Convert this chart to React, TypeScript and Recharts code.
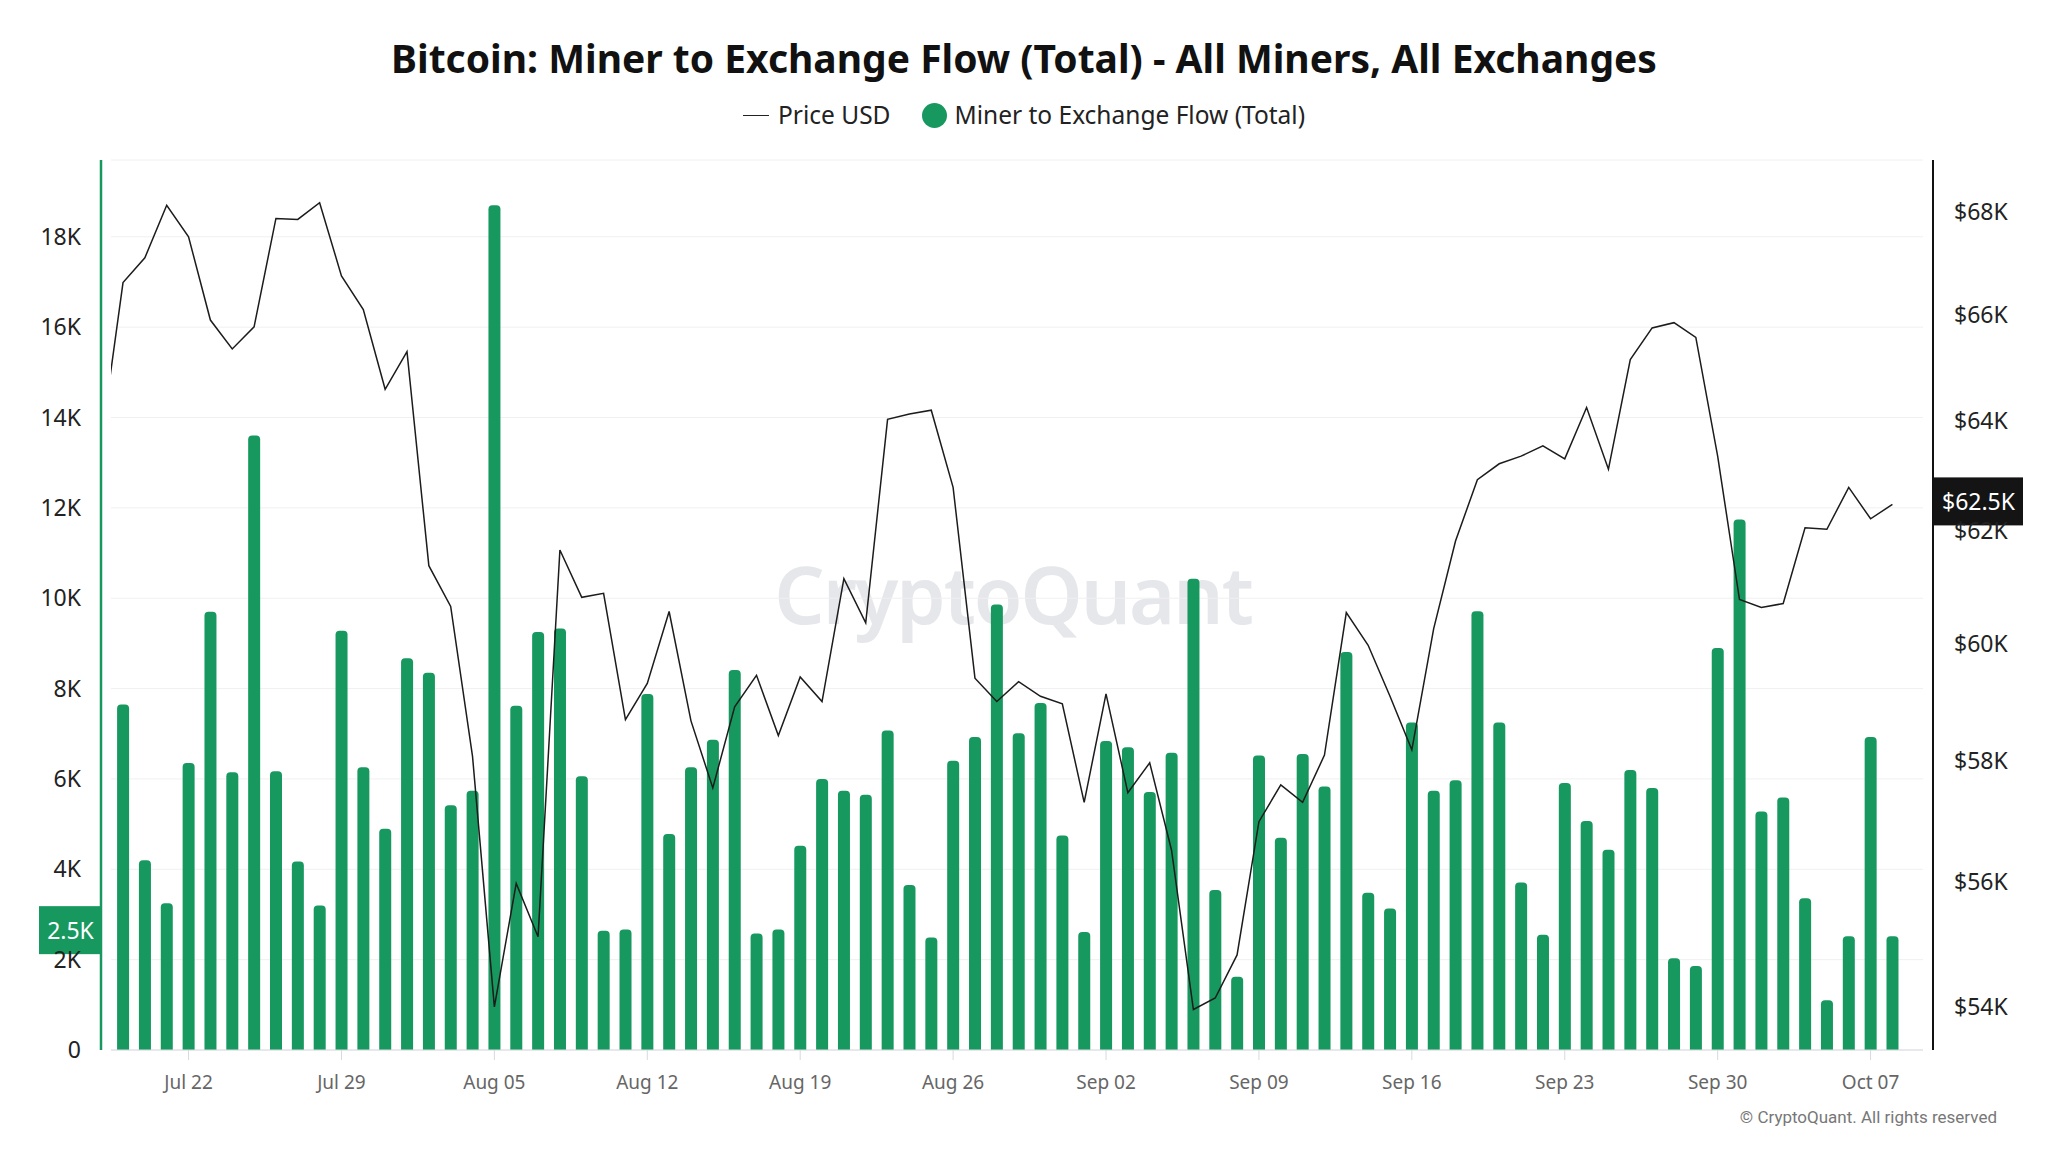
import React from "react";
import { Bar, CartesianGrid, ComposedChart, Line, ReferenceLine, XAxis, YAxis } from "recharts";

const FONT = "'Noto Sans', 'Open Sans', sans-serif";
const GREEN = "#17985f";

// one entry per day, Jul 18 .. Oct 08 (Jul 18 only carries a price)
const days = [
  "Jul 18", "Jul 19", "Jul 20", "Jul 21", "Jul 22", "Jul 23", "Jul 24", "Jul 25", "Jul 26", "Jul 27",
  "Jul 28", "Jul 29", "Jul 30", "Jul 31", "Aug 01", "Aug 02", "Aug 03", "Aug 04", "Aug 05", "Aug 06",
  "Aug 07", "Aug 08", "Aug 09", "Aug 10", "Aug 11", "Aug 12", "Aug 13", "Aug 14", "Aug 15", "Aug 16",
  "Aug 17", "Aug 18", "Aug 19", "Aug 20", "Aug 21", "Aug 22", "Aug 23", "Aug 24", "Aug 25", "Aug 26",
  "Aug 27", "Aug 28", "Aug 29", "Aug 30", "Aug 31", "Sep 01", "Sep 02", "Sep 03", "Sep 04", "Sep 05",
  "Sep 06", "Sep 07", "Sep 08", "Sep 09", "Sep 10", "Sep 11", "Sep 12", "Sep 13", "Sep 14", "Sep 15",
  "Sep 16", "Sep 17", "Sep 18", "Sep 19", "Sep 20", "Sep 21", "Sep 22", "Sep 23", "Sep 24", "Sep 25",
  "Sep 26", "Sep 27", "Sep 28", "Sep 29", "Sep 30", "Oct 01", "Oct 02", "Oct 03", "Oct 04", "Oct 05",
  "Oct 06", "Oct 07", "Oct 08",
];

// BTC moved from miners to exchanges
const minerFlow = [
  null, 7650, 4200, 3250, 6350, 9700, 6150, 13600, 6170, 4170,
  3200, 9280, 6260, 4900, 8670, 8350, 5420, 5740, 18700, 7620,
  9250, 9330, 6060, 2640, 2670, 7880, 4780, 6260, 6870, 8410,
  2580, 2670, 4520, 6000, 5740, 5650, 7070, 3650, 2490, 6400,
  6930, 9860, 7010, 7680, 4750, 2610, 6840, 6700, 5710, 6580,
  10430, 3540, 1620, 6520, 4700, 6550, 5830, 8810, 3480, 3130,
  7250, 5740, 5970, 9710, 7250, 3710, 2550, 5910, 5070, 4430,
  6200, 5800, 2030, 1860, 8900, 11740, 5280, 5590, 3360, 1100,
  2520, 6930, 2520,
];

const priceUsd = [
  63620, 66620, 67100, 68130, 67510, 65900, 65350, 65770, 67870, 67850,
  68180, 66750, 66100, 64590, 65300, 61370, 60650, 58070, 54000, 55970,
  55110, 61650, 60810, 60880, 58690, 59310, 60560, 58670, 57540, 58910,
  59450, 58420, 59420, 59000, 61140, 60360, 64030, 64130, 64200, 62780,
  59400, 59000, 59340, 59090, 58960, 57300, 59130, 57460, 57960, 56510,
  53960, 54140, 54820, 56980, 57590, 57300, 58090, 60540, 59970, 59090,
  58180, 60260, 61810, 62920, 63210, 63350, 63540, 63300, 64250, 63110,
  65150, 65750, 65850, 65570, 63350, 60770, 60630, 60700, 62050, 62020,
  62780, 62210, 62470,
];

const xTickLabels = ["Jul 22", "Jul 29", "Aug 05", "Aug 12", "Aug 19", "Aug 26", "Sep 02", "Sep 09", "Sep 16", "Sep 23", "Sep 30", "Oct 07"];
const flowTicks = [0, 2000, 4000, 6000, 8000, 10000, 12000, 14000, 16000, 18000];
const priceTicks = [54000, 56000, 58000, 60000, 62000, 64000, 66000, 68000];
const lastPriceTag = "$62.5K";
const lastFlowTag = "2.5K";

const rows = days.map((day, i) => ({ i, day, flow: minerFlow[i], price: priceUsd[i] }));
const lastRow = rows[rows.length - 1];

function PriceTag({ viewBox }: any) {
  const x = viewBox.x + viewBox.width + 11;
  const y = viewBox.y - 27;
  return (
    <g>
      <rect x={x} y={y} width={89} height={48} fill="#141414" />
      <text x={x + 44.5} y={y + 24} textAnchor="middle" dominantBaseline="central" fill="#fff" fontSize={23} fontFamily={FONT}>
        {lastPriceTag}
      </text>
    </g>
  );
}

function FlowTag({ viewBox }: any) {
  const x = viewBox.x - 72;
  const y = viewBox.y - 30;
  return (
    <g>
      <rect x={x} y={y} width={63} height={48} fill={GREEN} />
      <text x={x + 31.5} y={y + 24} textAnchor="middle" dominantBaseline="central" fill="#fff" fontSize={23} fontFamily={FONT}>
        {lastFlowTag}
      </text>
    </g>
  );
}

export default function App() {
  return (
    <div style={{ position: "absolute", left: 0, top: 0, width: 2048, height: 1152, background: "#fff", fontFamily: FONT, overflow: "hidden" }}>
      <div
        style={{
          position: "absolute",
          left: 0,
          width: 2048,
          top: 540,
          textAlign: "center",
          fontSize: 79,
          fontWeight: 600,
          color: "#e6e7eb",
          letterSpacing: -2,
          paddingRight: 22,
          boxSizing: "border-box",
        }}
      >
        CryptoQuant
      </div>

      <div style={{ position: "absolute", left: 0, width: 2048, top: 33, textAlign: "center", fontSize: 39, fontWeight: 700, color: "#111", lineHeight: "50px" }}>
        Bitcoin: Miner to Exchange Flow (Total) - All Miners, All Exchanges
      </div>

      <div style={{ position: "absolute", left: 0, width: 2048, top: 99, display: "flex", justifyContent: "center", alignItems: "center", fontSize: 24.5, color: "#222", lineHeight: "32px" }}>
        <span style={{ display: "inline-block", width: 26, height: 0, borderTop: "1.5px solid #222", marginRight: 9 }} />
        <span>Price USD</span>
        <span style={{ display: "inline-block", width: 25, height: 25, borderRadius: "50%", background: GREEN, marginLeft: 32, marginRight: 7 }} />
        <span>Miner to Exchange Flow (Total)</span>
      </div>

      <div style={{ position: "absolute", right: 51, top: 1103, fontSize: 17, color: "#777", fontFamily: "Roboto, sans-serif", lineHeight: "28px" }}>
        © CryptoQuant. All rights reserved
      </div>

      <div style={{ position: "absolute", left: 0, top: 0 }}>
        <ComposedChart width={2048} height={1152} data={rows} margin={{ top: 160, right: 0, bottom: 0, left: 0 }}>
          <CartesianGrid yAxisId="left" vertical={false} stroke="#f0f0f2" />
          <XAxis
            dataKey="i"
            type="number"
            domain={[0.45, 83.4]}
            allowDataOverflow
            ticks={xTickLabels.map((l) => days.indexOf(l))}
            tickFormatter={(v) => days[v]}
            height={102}
            stroke="#d8d9e0"
            tickSize={10}
            tickMargin={16}
            tick={{ fill: "#666", fontSize: 19, fontFamily: FONT }}
          />
          <YAxis
            yAxisId="left"
            orientation="left"
            width={111}
            domain={[0, 19700]}
            ticks={flowTicks}
            tickFormatter={(v) => (v === 0 ? "0" : `${v / 1000}K`)}
            tickLine={false}
            tickSize={20}
            tickMargin={10}
            axisLine={{ stroke: GREEN, strokeWidth: 2.5, transform: "translate(-10,0)" }}
            tick={{ fill: "#222", fontSize: 23, fontFamily: FONT }}
          />
          <YAxis
            yAxisId="right"
            orientation="right"
            width={125}
            scale="log"
            domain={[53330, 69030]}
            allowDataOverflow
            ticks={priceTicks}
            tickFormatter={(v) => `$${v / 1000}K`}
            tickLine={false}
            tickSize={20}
            tickMargin={11}
            axisLine={{ stroke: "#111", strokeWidth: 2, transform: "translate(10,0)" }}
            tick={{ fill: "#222", fontSize: 23, fontFamily: FONT }}
          />
          <Bar yAxisId="left" dataKey="flow" name="Miner to Exchange Flow (Total)" fill={GREEN} barSize={12} radius={[4, 4, 0, 0]} isAnimationActive={false} />
          <Line yAxisId="right" dataKey="price" name="Price USD" type="linear" stroke="#1c1c1c" strokeWidth={1.5} dot={false} activeDot={false} isAnimationActive={false} />
          <ReferenceLine yAxisId="right" y={lastRow.price} stroke="none" label={(p: any) => <PriceTag viewBox={p.viewBox} />} />
          <ReferenceLine yAxisId="left" y={lastRow.flow as number} stroke="none" label={(p: any) => <FlowTag viewBox={p.viewBox} />} />
        </ComposedChart>
      </div>
    </div>
  );
}
